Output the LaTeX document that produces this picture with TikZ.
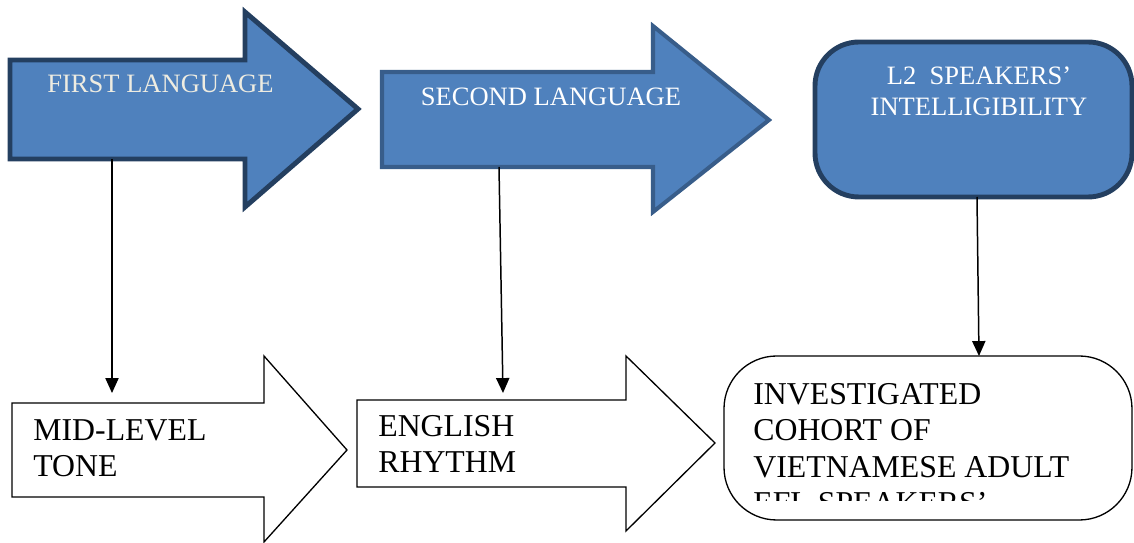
\documentclass[tikz,border=0pt]{standalone}
\usepackage{fontspec}
\setmainfont{Liberation Serif}
\usetikzlibrary{arrows.meta}
\definecolor{shapeblue}{HTML}{4F81BD}
\definecolor{navyline}{HTML}{243F60}
\definecolor{midline}{HTML}{385D8A}
\definecolor{paletext}{HTML}{EEECE1}
\begin{document}
\begin{tikzpicture}[
    x=0.02cm, y=-0.02cm,
    bluearrow/.style={fill=shapeblue,line width=2.8pt},
    whitearrow/.style={draw=black,fill=white,line width=0.75pt},
    toplabel/.style={inner sep=0pt,font=\fontsize{15.1}{17.6}\selectfont},
    lowlabel/.style={inner sep=0pt,align=left,anchor=north west,font=\fontsize{18.1}{20.7}\selectfont},
    conn/.style={-{Triangle[length=8.5pt,width=7.5pt]},line width=0.85pt}
]
\useasboundingbox (0,0) rectangle (1134,543);
% upper row
\draw[bluearrow,draw=navyline] (10,60) -- (245,60) -- (245,12) -- (358,109) -- (245,207) -- (245,159) -- (10,159) -- cycle;
\draw[bluearrow,draw=midline,line width=2.3pt] (382,72) -- (653,72) -- (653,26) -- (769,120) -- (653,212) -- (653,167) -- (382,167) -- cycle;
\draw[bluearrow,draw=navyline,rounded corners=25] (815,42) rectangle (1132,197);
\node[toplabel,text=paletext,anchor=base] (first) at (160.5,93) {FIRST LANGUAGE};
\node[toplabel,text=white,anchor=base] (second) at (551,106) {SECOND LANGUAGE};
\node[toplabel,text=white,align=center,anchor=north] (intell) at (979,67) {L2\ \ SPEAKERS’\\INTELLIGIBILITY};
% lower row
\draw[whitearrow] (12,403) -- (264,403) -- (264,356) -- (347,450) -- (264,542) -- (264,497) -- (12,497) -- cycle;
\draw[whitearrow] (357,400) -- (626,400) -- (626,356) -- (715,443) -- (626,531) -- (626,487) -- (357,487) -- cycle;
\draw[whitearrow,rounded corners=30] (724,356) rectangle (1132,520);
\node[lowlabel] (tone) at (33,419) {MID-LEVEL\\TONE};
\node[lowlabel] (rhythm) at (378,415) {ENGLISH\\RHYTHM};
\begin{scope}
  \clip (724,356) rectangle (1134,501);
  \node[lowlabel] (cohort) at (753,383) {INVESTIGATED\\COHORT OF\\VIETNAMESE ADULT\\EFL SPEAKERS’};
\end{scope}
% links
\coordinate (first-out) at (112,159);
\coordinate (tone-in) at (112,393);
\coordinate (second-out) at (499,167);
\coordinate (rhythm-in) at (503,393);
\coordinate (intell-out) at (977,197);
\coordinate (cohort-in) at (979,356);
\draw[conn] (first-out) -- (tone-in);
\draw[conn] (second-out) -- (rhythm-in);
\draw[conn] (intell-out) -- (cohort-in);
\end{tikzpicture}
\end{document}
